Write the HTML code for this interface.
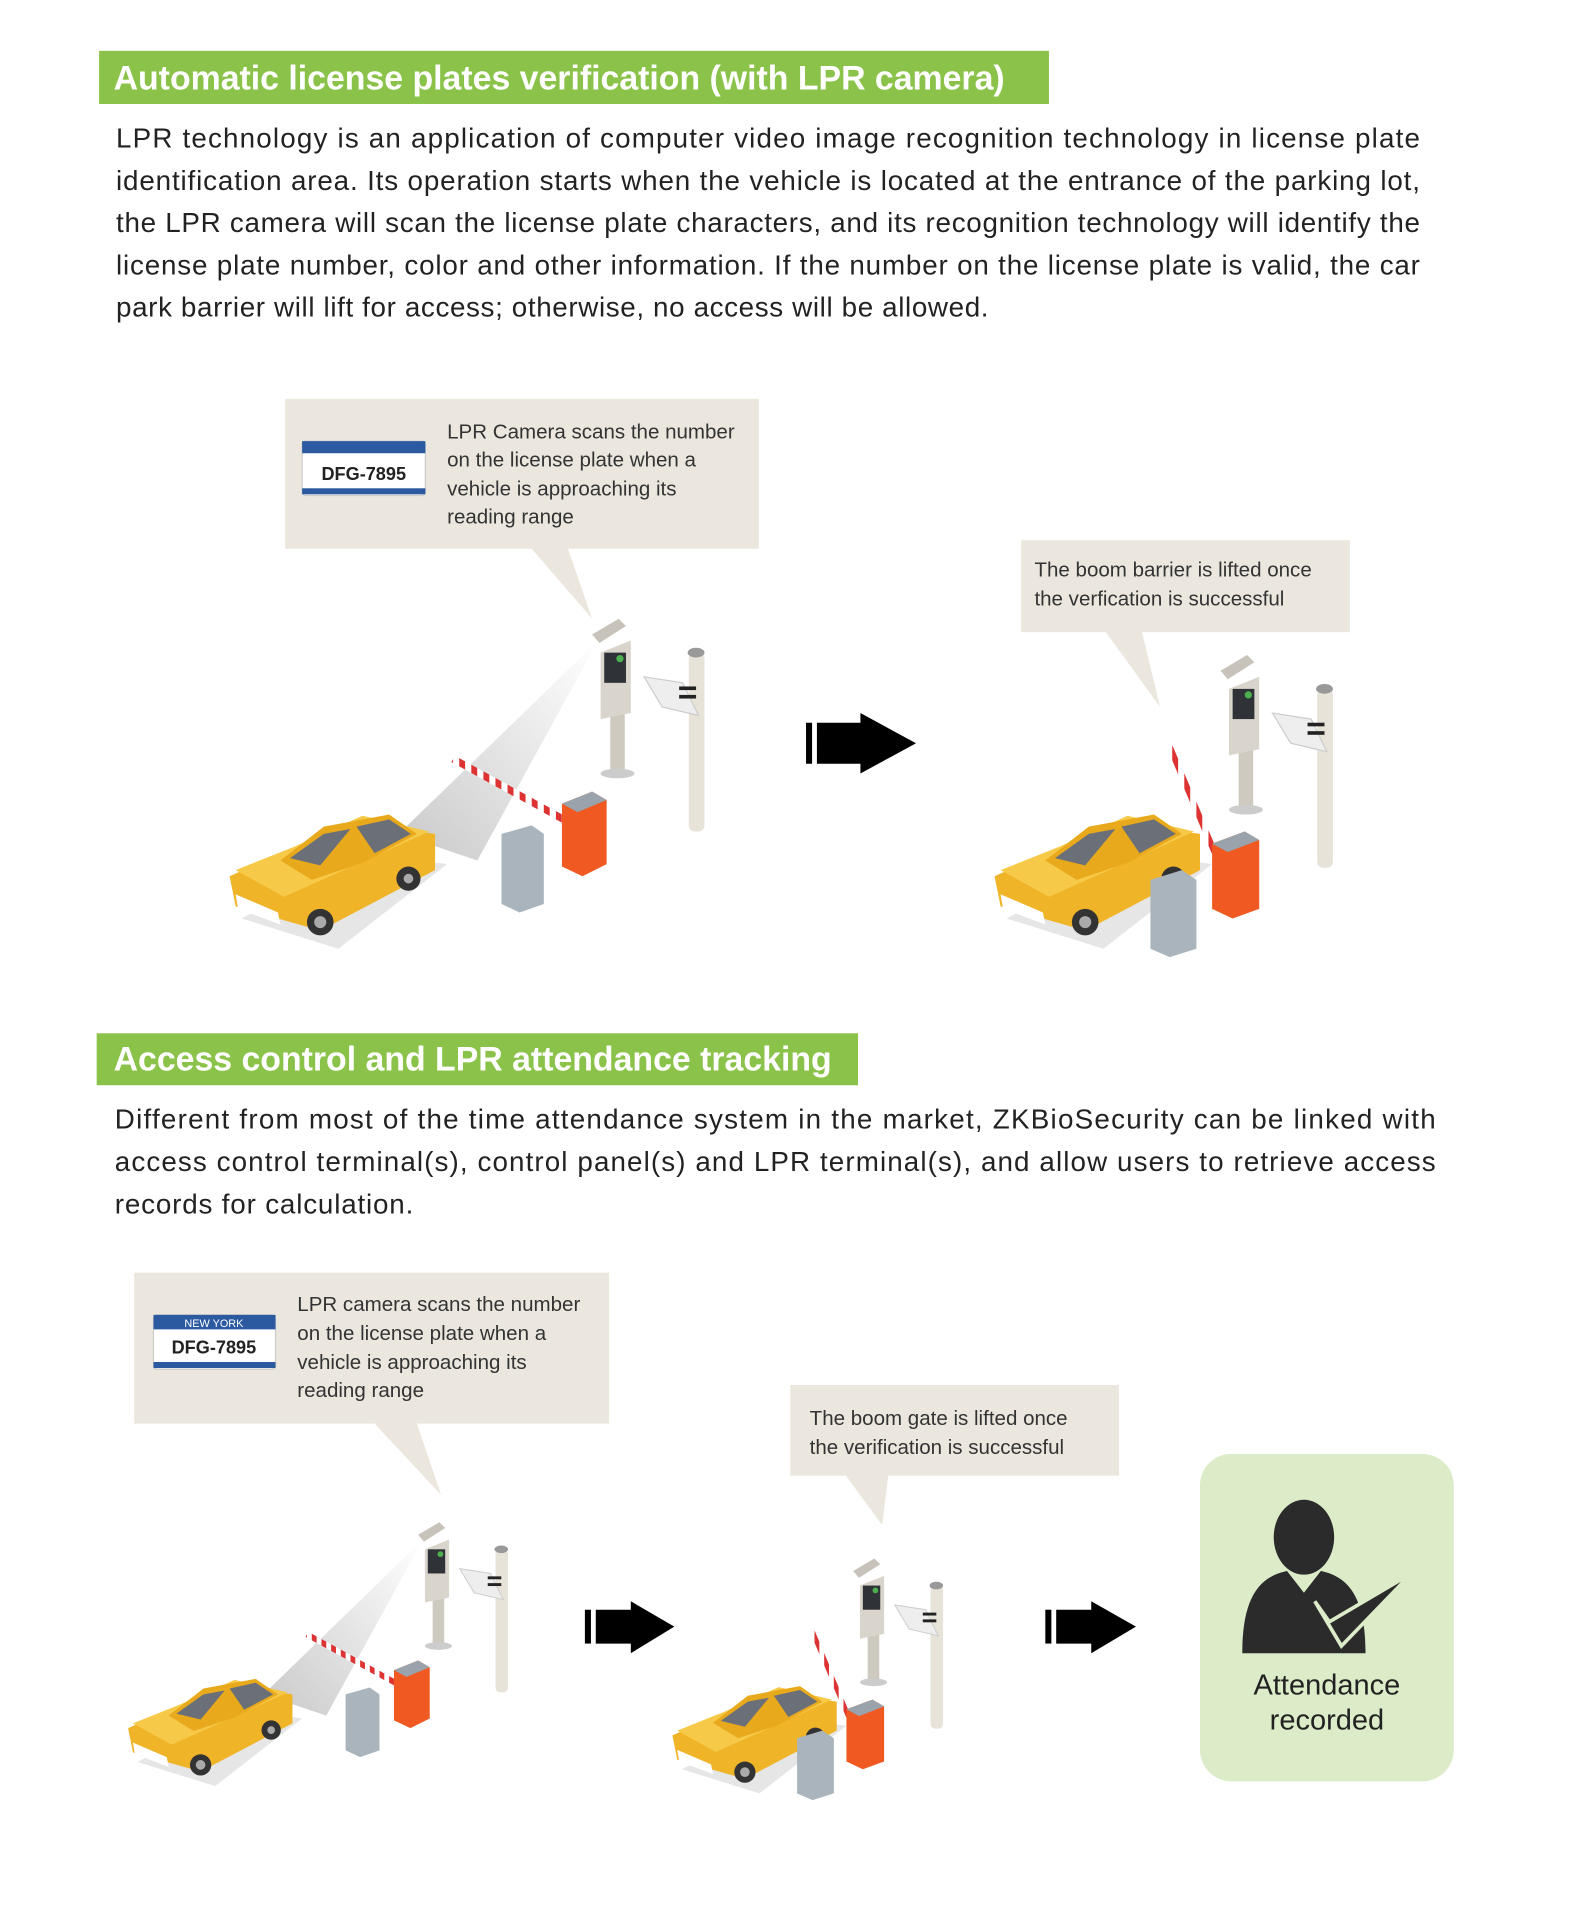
<!DOCTYPE html>
<html><head><meta charset="utf-8"><style>html,body{margin:0;padding:0;background:#fff}svg{display:block}</style></head>
<body>
<svg width="1571" height="1909" viewBox="0 0 1300 1579.6" xmlns="http://www.w3.org/2000/svg" font-family="Liberation Sans, sans-serif">
<defs>
<linearGradient id="beam" x1="1" y1="0" x2="0" y2="1"><stop offset="0" stop-color="#fff"/><stop offset="1" stop-color="#c9c9c9"/></linearGradient>
<pattern id="stripe" width="10" height="10" patternUnits="userSpaceOnUse"><rect width="5" height="10" fill="#d33"/><rect x="5" width="5" height="10" fill="#fff"/></pattern>
<g id="car">
<polygon points="200,760 300,705 370,715 280,785" fill="#e6e6e6"/>
<polygon points="190,725 290,680 360,690 360,720 265,770 195,750" fill="#f0b429"/>
<polygon points="195,720 245,700 300,675 355,688 280,722 235,742" fill="#f7c948"/>
<polygon points="232,712 268,684 322,674 345,690 300,714 258,728" fill="#e8a91c"/>
<polygon points="240,710 268,690 290,686 265,716" fill="#6b6f77"/>
<polygon points="295,684 322,678 340,690 310,706" fill="#6b6f77"/>
<polygon points="195,740 230,755 232,765 197,752" fill="#fff"/>
<circle cx="265" cy="763" r="11" fill="#333"/><circle cx="338" cy="727" r="10" fill="#333"/>
<circle cx="265" cy="763" r="5" fill="#aaa"/><circle cx="338" cy="727" r="4" fill="#aaa"/>
</g>
<g id="kiosk">
<rect x="505" y="580" width="12" height="58" fill="#cfcac0"/>
<polygon points="497,540 522,530 522,590 497,595" fill="#d9d5cc"/>
<rect x="500" y="540" width="18" height="25" fill="#2f3337"/>
<circle cx="513" cy="545" r="3" fill="#4caf50"/>
<polygon points="490,525 512,512 518,518 496,532" fill="#c8c3ba"/>
<ellipse cx="511" cy="640" rx="14" ry="4" fill="#ccc"/>
<rect x="570" y="540" width="13" height="148" rx="5" fill="#e8e3d9"/>
<ellipse cx="576" cy="540" rx="7" ry="4" fill="#999"/>
<polygon points="533,560 565,565 578,592 548,585" fill="#eee" stroke="#ccc"/>
<rect x="562" y="568" width="14" height="3" fill="#222"/><rect x="562" y="575" width="14" height="3" fill="#222"/>
</g>
</defs>

<rect x="82" y="42" width="786" height="44" fill="#8bc34a"/>
<text x="94" y="74" font-size="28" font-weight="bold" fill="#fff">Automatic license plates verification (with LPR camera)</text>
<g font-size="23" fill="#222">
<text x="96" y="122" textLength="1079" lengthAdjust="spacing">LPR technology is an application of computer video image recognition technology in license plate</text>
<text x="96" y="157" textLength="1079" lengthAdjust="spacing">identification area. Its operation starts when the vehicle is located at the entrance of the parking lot,</text>
<text x="96" y="192" textLength="1079" lengthAdjust="spacing">the LPR camera will scan the license plate characters, and its recognition technology will identify the</text>
<text x="96" y="227" textLength="1079" lengthAdjust="spacing">license plate number, color and other information. If the number on the license plate is valid, the car</text>
<text x="96" y="262" textLength="722" lengthAdjust="spacing">park barrier will lift for access; otherwise, no access will be allowed.</text>
</g>

<polygon points="236,330 628,330 628,454 470,454 490,512 440,454 236,454" fill="#ebe7df"/>
<rect x="250" y="365" width="102" height="45" rx="3" fill="#fff" stroke="#ccc"/>
<rect x="250" y="365" width="102" height="10" fill="#2c5aa0"/>
<rect x="250" y="404" width="102" height="5" fill="#2c5aa0"/>
<text x="301" y="397" font-size="15" font-weight="bold" text-anchor="middle" fill="#222">DFG-7895</text>
<g font-size="17" fill="#333"><text x="370" y="363">LPR Camera scans the number</text><text x="370" y="386">on the license plate when a</text><text x="370" y="410">vehicle is approaching its</text><text x="370" y="433">reading range</text></g>

<polygon points="845,447 1117,447 1117,523 945,523 960,585 915,523 845,523" fill="#ebe7df"/>
<g font-size="17" fill="#333"><text x="856" y="477">The boom barrier is lifted once</text><text x="856" y="501">the verfication is successful</text></g>

<g id="s1">
<polygon points="495,530 330,690 395,712" fill="url(#beam)"/>
<use href="#kiosk"/>
<use href="#car"/>
<line x1="375" y1="628" x2="470" y2="680" stroke="url(#stripe)" stroke-width="6"/>
<polygon points="415,690 440,683 450,690 450,748 430,755 415,748" fill="#a9b4bd"/>
<polygon points="465,665 490,655 502,662 502,715 482,725 465,717" fill="#f05a22"/>
<polygon points="465,665 490,655 502,662 478,672" fill="#9aa3ab"/>
</g>
<g id="s2">
<use href="#kiosk" transform="translate(520,30)"/>
<use href="#car" transform="translate(633,0)"/>
<line x1="968" y1="618" x2="1005" y2="705" stroke="url(#stripe)" stroke-width="5"/>
<polygon points="1003,698 1030,688 1042,695 1042,752 1020,760 1003,752" fill="#f05a22"/>
<polygon points="1003,698 1030,688 1042,695 1016,705" fill="#9aa3ab"/>
<polygon points="952,728 978,720 990,728 990,785 968,792 952,785" fill="#a9b4bd"/>
</g>

<polygon points="667,598 672,598 672,632 667,632" fill="#000"/>
<polygon points="676,598 712,598 712,590 758,615 712,640 712,632 676,632" fill="#000"/>

<rect x="80" y="855" width="630" height="43" fill="#8bc34a"/>
<text x="94" y="886" font-size="28" font-weight="bold" fill="#fff">Access control and LPR attendance tracking</text>
<g font-size="23" fill="#222">
<text x="95" y="934" textLength="1093" lengthAdjust="spacing">Different from most of the time attendance system in the market, ZKBioSecurity can be linked with</text>
<text x="95" y="969" textLength="1093" lengthAdjust="spacing">access control terminal(s), control panel(s) and LPR terminal(s), and allow users to retrieve access</text>
<text x="95" y="1004" textLength="247" lengthAdjust="spacing">records for calculation.</text>
</g>

<polygon points="111,1053 504,1053 504,1178 345,1178 365,1237 310,1178 111,1178" fill="#ebe7df"/>
<rect x="127" y="1088" width="101" height="45" rx="3" fill="#fff" stroke="#ccc"/>
<rect x="127" y="1088" width="101" height="12" fill="#2c5aa0"/>
<text x="177" y="1098" font-size="9" text-anchor="middle" fill="#fff">NEW YORK</text>
<rect x="127" y="1127" width="101" height="5" fill="#2c5aa0"/>
<text x="177" y="1120" font-size="15" font-weight="bold" text-anchor="middle" fill="#222">DFG-7895</text>
<g font-size="17" fill="#333"><text x="246" y="1085">LPR camera scans the number</text><text x="246" y="1109">on the license plate when a</text><text x="246" y="1133">vehicle is approaching its</text><text x="246" y="1156">reading range</text></g>

<polygon points="654,1146 926,1146 926,1221 735,1221 730,1262 700,1221 654,1221" fill="#ebe7df"/>
<g font-size="17" fill="#333"><text x="670" y="1179">The boom gate is lifted once</text><text x="670" y="1203">the verification is successful</text></g>

<use href="#s1" transform="translate(-46,850) scale(0.8)"/>
<use href="#s2" transform="translate(-102,856) scale(0.8)"/>

<g fill="#000">
<rect x="484" y="1332" width="5" height="28"/><polygon points="493,1332 522,1332 522,1325 558,1346 522,1368 522,1360 493,1360"/>
<rect x="865" y="1332" width="5" height="28"/><polygon points="874,1332 903,1332 903,1325 940,1346 903,1368 903,1360 874,1360"/>
</g>

<rect x="993" y="1203" width="210" height="271" rx="26" fill="#dcebc8"/>
<ellipse cx="1079" cy="1272" rx="25" ry="31" fill="#2b2b2b"/>
<path d="M1028,1368 C1028,1325 1040,1305 1065,1300 L1079,1318 L1093,1300 C1118,1305 1130,1325 1130,1368 Z" fill="#2b2b2b"/>
<path d="M1088,1325 L1100,1342 L1168,1302 L1110,1362 Z" fill="#2b2b2b" stroke="#dcebc8" stroke-width="3"/>
<text x="1098" y="1402" font-size="24" text-anchor="middle" fill="#222">Attendance</text>
<text x="1098" y="1431" font-size="24" text-anchor="middle" fill="#222">recorded</text>
</svg>
</body></html>
